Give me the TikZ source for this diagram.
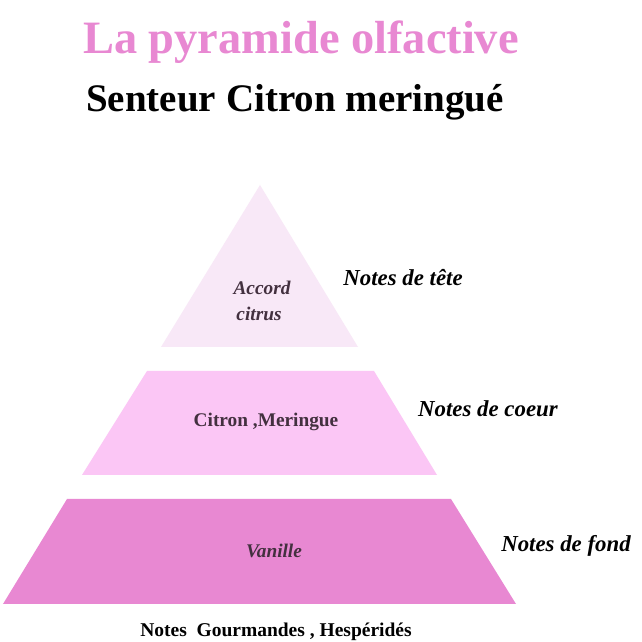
\documentclass[tikz,border=0pt]{standalone}
\usepackage{xcolor}
\usepackage{fontspec}
\setmainfont{Liberation Serif}
\definecolor{tetepink}{HTML}{F8E8F7}
\definecolor{coeurpink}{HTML}{FBC6F5}
\definecolor{fondpink}{HTML}{E888D2}
\definecolor{innertext}{HTML}{43303F}
\tikzstyle{note}=[font=\fontsize{13}{15}\selectfont\bfseries\itshape,black,inner sep=0pt]
\tikzstyle{inside}=[font=\fontsize{11}{13}\selectfont\bfseries,innertext,inner sep=0pt]
\tikzstyle{insideit}=[font=\fontsize{11}{13}\selectfont\bfseries\itshape,innertext,inner sep=0pt]
\begin{document}
\begin{tikzpicture}
\useasboundingbox (0,0) rectangle (12.84,12.84);
\fill[white] (0,0) rectangle (12.84,12.84);
\fill[tetepink] (5.20,9.14)--(7.16,5.90)--(3.22,5.90)--cycle;
\fill[coeurpink] (2.94,5.42)--(7.48,5.42)--(8.74,3.34)--(1.64,3.34)--cycle;
\fill[fondpink] (1.34,2.86)--(9.02,2.86)--(10.32,0.76)--(0.06,0.76)--cycle;
\node[font=\fontsize{26.4}{30}\selectfont\bfseries,text=fondpink,inner sep=0pt](title)at (6.02,12.00){La pyramide olfactive};
\node[font=\fontsize{22.2}{26}\selectfont\bfseries,black,inner sep=0pt](subtitle)at (5.90,10.79){Senteur Citron meringué};
\node[insideit](accord)at (5.24,7.08){Accord};
\node[insideit](citrus)at (5.18,6.56){citrus};
\node[inside](citron)at (5.32,4.40){Citron ,Meringue};
\node[insideit](vanille)at (5.48,1.82){Vanille};
\node[note](tete)at (8.06,7.28){Notes de tête};
\node[note](coeur)at (9.76,4.66){Notes de coeur};
\node[note](fond)at (11.32,1.92){Notes de fond};
\node[font=\fontsize{11.1}{13}\selectfont\bfseries,black,inner sep=0pt](familles)at (5.52,0.20){Notes\ \ Gourmandes , Hespéridés};
\end{tikzpicture}
\end{document}
